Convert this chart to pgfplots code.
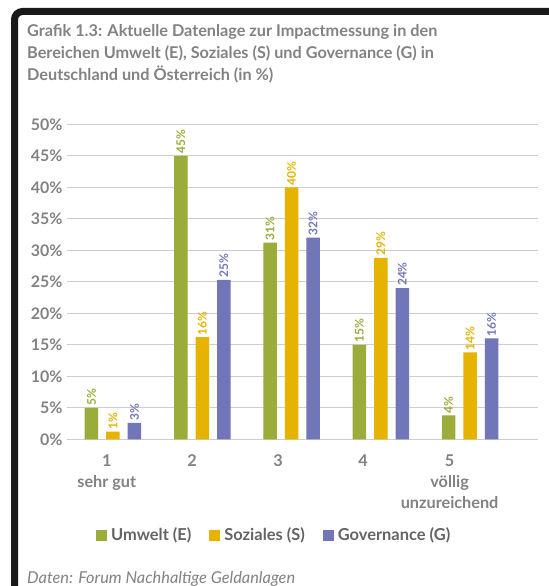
\documentclass[border=0pt]{standalone}
\usepackage{pgfplots}
\pgfplotsset{compat=1.18}
\usepackage{fontspec}
\setmainfont{Lato}
\definecolor{cE}{RGB}{155,172,58}
\definecolor{cS}{RGB}{230,180,0}
\definecolor{cG}{RGB}{112,118,184}
\definecolor{txt}{RGB}{130,130,130}
\definecolor{legtxt}{RGB}{100,100,100}
\definecolor{gridc}{RGB}{205,205,205}
\definecolor{frame}{RGB}{25,25,25}
\begin{document}
\begin{tikzpicture}[x=1bp,y=1bp]
\path[use as bounding box, fill=white] (0,0) rectangle (549,586);
\draw[line width=7bp, color=frame, rounded corners=8bp] (14.5,-10) -- (14.5,574.5) -- (560,574.5);
\node[anchor=base west, inner sep=0, text=txt, font=\fontsize{16.3}{20}\selectfont\bfseries] at (27,549) {Grafik 1.3: Aktuelle Datenlage zur Impactmessung in den};
\node[anchor=base west, inner sep=0, text=txt, font=\fontsize{16.3}{20}\selectfont\bfseries] at (27,527) {Bereichen Umwelt (E), Soziales (S) und Governance (G) in};
\node[anchor=base west, inner sep=0, text=txt, font=\fontsize{16.3}{20}\selectfont\bfseries] at (27,505) {Deutschland und Österreich (in \%)};
\node[anchor=base west, inner sep=0, text=txt, font=\fontsize{16.4}{18}\selectfont\itshape] at (27,2) {Daten: Forum Nachhaltige Geldanlagen};
\begin{axis}[
  at={(67bp,146.7bp)}, anchor=south west,
  scale only axis, width=471bp, height=315bp,
  xmin=0.485, xmax=5.76, ymin=0, ymax=50,
  clip=false,
  axis line style={draw=none},
  major tick length=0pt,
  ymajorgrids, grid style={gridc, line width=1.2bp},
  ytick={0,5,...,50},
  yticklabels={0\%,5\%,10\%,15\%,20\%,25\%,30\%,35\%,40\%,45\%,50\%},
  yticklabel style={text=txt, font=\fontsize{16}{18}\selectfont\bfseries, xshift=-1bp},
  xtick={0.93,1.885,2.85,3.8,4.77},
  xticklabels={{1\\sehr gut},2,3,4,{5\\völlig\\unzureichend}},
  xticklabel style={text=txt, font=\fontsize{16.3}{21}\selectfont\bfseries, align=center, yshift=-12bp},
  ybar=8bp, bar width=13.5bp,
  nodes near coords={\pgfmathprintnumber[fixed,precision=0,assume math mode=true]{\pgfplotspointmeta}\%},
  every node near coord/.append style={rotate=90, anchor=west, inner sep=2bp, font=\fontsize{12}{13}\selectfont\bfseries},
  legend columns=3,
  legend style={at={(0.44,-0.304)}, anchor=center, draw=none, fill=none,
    font=\fontsize{16.5}{18}\selectfont\bfseries, text=legtxt,
    /tikz/every odd column/.append style={column sep=2bp},
    /tikz/every even column/.append style={column sep=16bp}},
  legend image code/.code={\fill[#1] (0bp,-5.5bp) rectangle (11bp,5.5bp);},
]
\addplot[fill=cE, draw=none, every node near coord/.append style={text=cE}] coordinates {(1,5) (2,45) (3,31.2) (4,15) (5,3.8)};
\addplot[fill=cS, draw=none, every node near coord/.append style={text=cS}] coordinates {(1,1.2) (2,16.2) (3,40) (4,28.8) (5,13.8)};
\addplot[fill=cG, draw=none, every node near coord/.append style={text=cG}] coordinates {(1,2.6) (2,25.3) (3,32) (4,24) (5,16)};
\legend{Umwelt (E),Soziales (S),Governance (G)}
\end{axis}
\end{tikzpicture}
\end{document}
